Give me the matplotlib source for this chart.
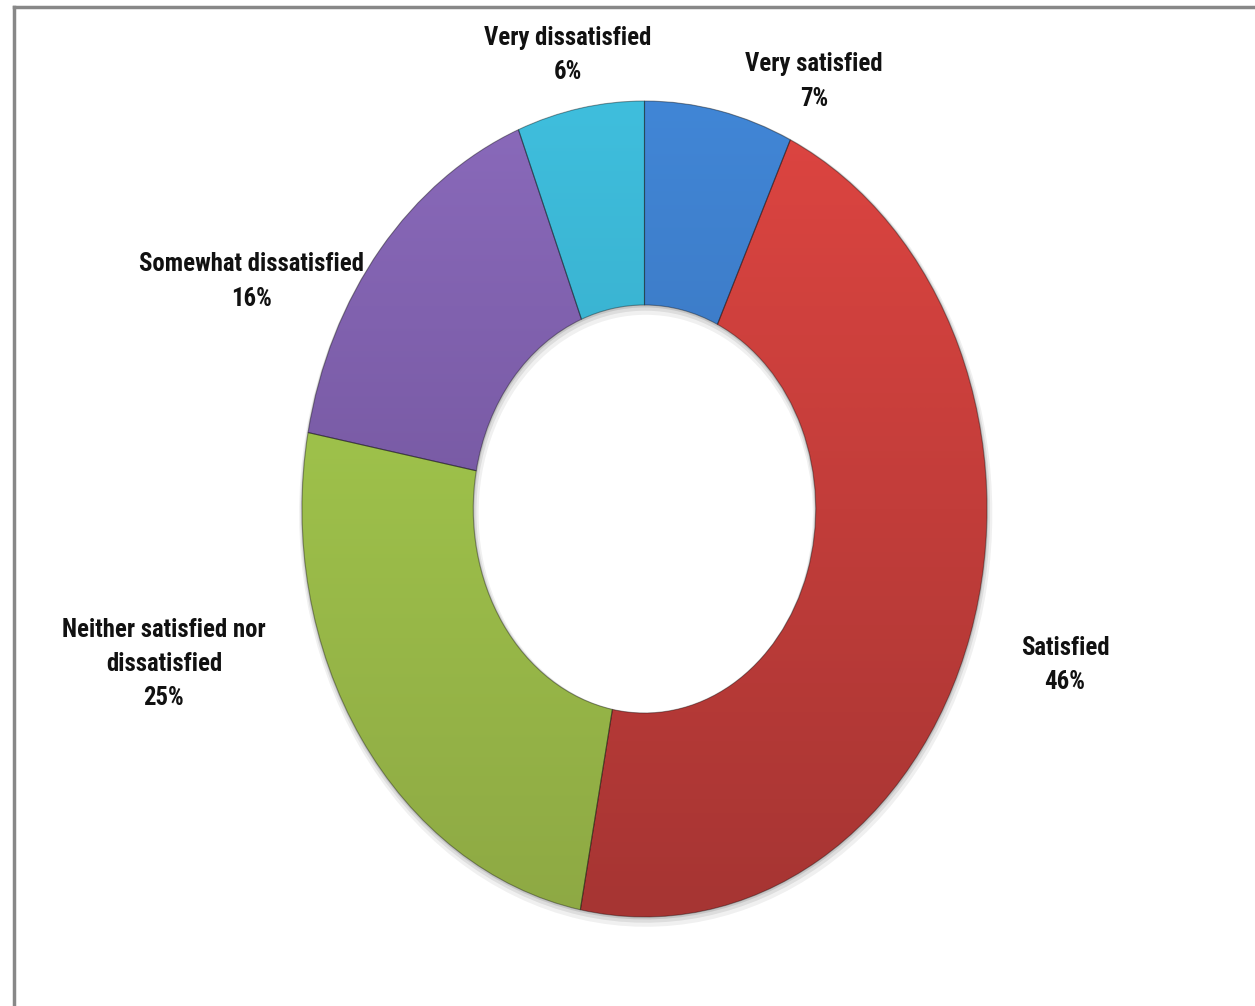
import numpy as np
import matplotlib.pyplot as plt
from matplotlib.colors import to_rgb

labels = ["Very satisfied", "Satisfied", "Neither satisfied nor\ndissatisfied",
          "Somewhat dissatisfied", "Very dissatisfied"]
shares = [7, 46, 25, 16, 6]

# top / bottom shade of each slice
top_colors = ["#4186d6", "#de4541", "#a9d24f", "#8a6abb", "#3fbedd"]
bottom_colors = ["#3466a8", "#a63533", "#8ea944", "#664a8c", "#2e9ab6"]

# label block centres in pie coordinates
label_pos = [(0.495, 1.048), (1.228, -0.382), (-1.403, -0.380),
             (-1.146, 0.558), (-0.223, 1.113)]

W, H = 1255, 1006
fig = plt.figure(figsize=(W / 100, H / 100), dpi=100)

# outer frame
frame = fig.add_axes([14 / W, -0.1, 1.2, 1 - 7 / H + 0.1])
frame.set_xticks([])
frame.set_yticks([])
frame.patch.set_alpha(0)
for s in frame.spines.values():
    s.set_color("#888888")
    s.set_linewidth(2.5)

cx, cy, rx, ry = 644.5, 509, 342.5, 408
ax = fig.add_axes([(cx - rx) / W, (H - cy - ry) / H, 2 * rx / W, 2 * ry / H])

# soft shadow under the ring
for k, a in [(0.012, 0.06), (0.007, 0.08), (0.003, 0.10)]:
    ax.pie(shares, startangle=90, counterclock=False, radius=1 + k,
           center=(k * 0.3, -k), colors=["#000000"] * len(shares),
           wedgeprops=dict(width=0.5 + 2 * k, linewidth=0, alpha=a))

wedges, _ = ax.pie(shares, startangle=90, counterclock=False,
                   wedgeprops=dict(width=0.5, linewidth=0))
ax.set_aspect("auto")

yy = np.linspace(1, 0, 200)[:, None, None]
for w, c1, c2 in zip(wedges, top_colors, bottom_colors):
    grad = yy * np.array(to_rgb(c1)) + (1 - yy) * np.array(to_rgb(c2))
    grad = np.repeat(grad, 2, axis=1)
    w.set_facecolor("none")
    im = ax.imshow(grad, extent=(-1, 1, -1, 1), aspect="auto", zorder=3,
                   interpolation="bilinear")
    im.set_clip_path(w)
    w.set_edgecolor((0, 0, 0, 0.35))
    w.set_linewidth(0.8)
    w.set_zorder(4)
ax.set_xlim(-1, 1)
ax.set_ylim(-1, 1)

for lab, v, (x, y) in zip(labels, shares, label_pos):
    ax.text(x, y, f"{lab}\n{v}%", ha="center", va="center",
            family=["Roboto Condensed", "DejaVu Sans"], fontweight="bold",
            fontsize=17.8, linespacing=1.55, color="#111111", clip_on=False)

fig.savefig("out.png", dpi=100)
